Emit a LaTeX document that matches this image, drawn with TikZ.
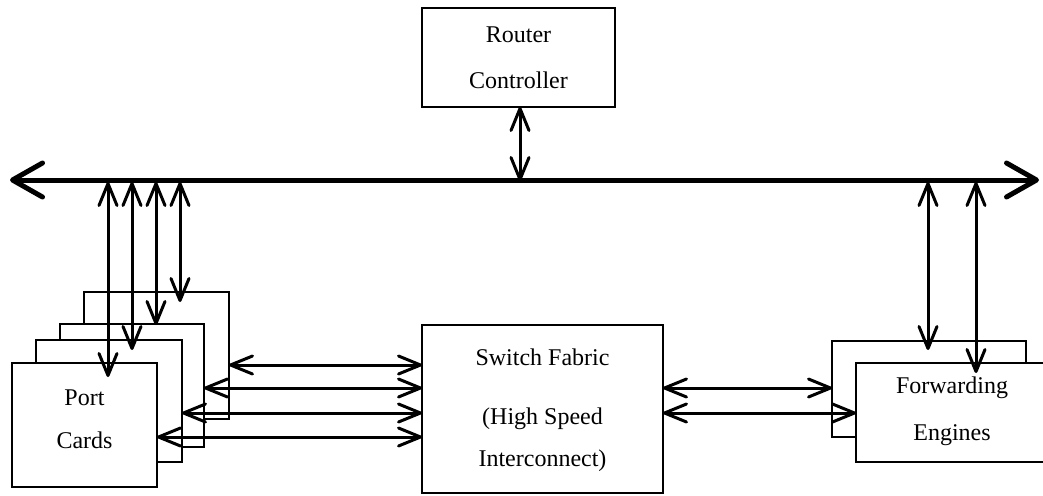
\documentclass[tikz,border=0pt]{standalone}
\usepackage{fontspec}
\setmainfont{Liberation Serif}
\usetikzlibrary{arrows.meta,calc}
\begin{document}
\begin{tikzpicture}[x=1pt,y=-1pt,
  box/.style={draw, line width=1.6pt, fill=white, inner sep=0pt, outer sep=0pt},
  lbl/.style={anchor=base, inner sep=0pt, font=\fontsize{24}{28}\selectfont},
  link/.style={line width=3pt,
    {Straight Barb[length=22pt,width=18pt,round]}-{Straight Barb[length=22pt,width=18pt,round]}},
  bus/.style={line width=5pt,
    {Straight Barb[length=30pt,width=34pt,round]}-{Straight Barb[length=30pt,width=34pt,round]}}]
\useasboundingbox (0,0) rectangle (1043,495);

% --- main blocks ---
\node[box, minimum width=193pt, minimum height=99pt] (rc) at (518.5,57.5) {};
\node[box, minimum width=241pt, minimum height=168pt] (sf) at (542.5,409) {};

% stacked port cards, back to front
\node[box, minimum width=145pt, minimum height=127pt] (pc4) at (156.5,355.5) {};
\node[box, minimum width=144pt, minimum height=123pt] (pc3) at (132,385.5) {};
\node[box, minimum width=146pt, minimum height=122pt] (pc2) at (109,401) {};
\node[box, minimum width=145pt, minimum height=124pt] (pc1) at (84.5,425) {};

% stacked forwarding engines, back to front
\node[box, minimum width=194pt, minimum height=96pt] (fe2) at (929,389) {};
\node[box, minimum width=192pt, minimum height=99pt] (fe1) at (952,412.5) {};

% --- labels ---
\node[lbl] (rcA) at (518.5,43) {Router};
\node[lbl] (rcB) at (518.5,88) {Controller};
\node[lbl] (sfA) at (542.5,365) {Switch Fabric};
\node[lbl] (sfB) at (542.5,424) {(High Speed};
\node[lbl] (sfC) at (542.5,466) {Interconnect)};
\node[lbl] (pcA) at (84.5,405) {Port};
\node[lbl] (pcB) at (84.5,448) {Cards};
\node[lbl] (feA) at (952,393) {Forwarding};
\node[lbl] (feB) at (952,440) {Engines};

% --- system bus ---
\coordinate (busL) at (10,180);
\coordinate (busR) at (1039,180);
\draw[bus] (busL) -- (busR);

% taps on the bus
\coordinate (t0) at (520,181);
\coordinate (t1) at (108,182);
\coordinate (t2) at (132,182);
\coordinate (t3) at (156,182);
\coordinate (t4) at (180,182);
\coordinate (t5) at (928,182);
\coordinate (t6) at (976,182);

\draw[link] (t0 |- rc.south) -- (t0);
\draw[link] (t1) -- ($(t1 |- pc1.north)+(0,14)$);
\draw[link] (t2) -- ($(t2 |- pc2.north)+(0,10)$);
\draw[link] (t3) -- ($(t3 |- pc3.north)+(0,1)$);
\draw[link] (t4) -- ($(t4 |- pc4.north)+(0,10)$);
\draw[link] (t5) -- ($(t5 |- fe2.north)+(0,9)$);
\draw[link] (t6) -- ($(t6 |- fe1.north)+(0,10)$);

% port cards <-> switch fabric
\coordinate (h1) at (300,365);
\coordinate (h2) at (300,388);
\coordinate (h3) at (300,413);
\coordinate (h4) at (300,437);
\draw[link] (pc4.east |- h1) -- (sf.west |- h1);
\draw[link] (pc3.east |- h2) -- (sf.west |- h2);
\draw[link] (pc2.east |- h3) -- (sf.west |- h3);
\draw[link] (pc1.east |- h4) -- (sf.west |- h4);

% switch fabric <-> forwarding engines
\coordinate (g1) at (750,388);
\coordinate (g2) at (750,413);
\draw[link] (sf.east |- g1) -- (fe2.west |- g1);
\draw[link] (sf.east |- g2) -- (fe1.west |- g2);
\end{tikzpicture}
\end{document}
